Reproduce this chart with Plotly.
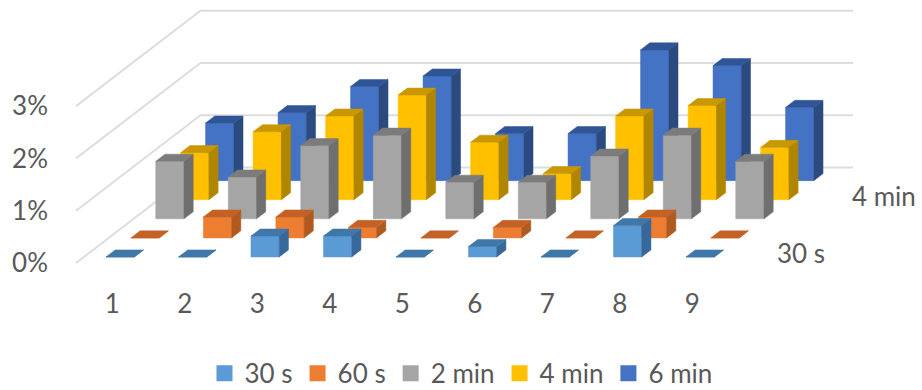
import plotly.graph_objects as go

# Column heights in percent, one list per exposure time
categories = [1, 2, 3, 4, 5, 6, 7, 8, 9]
series_names = ["30 s", "60 s", "2 min", "4 min", "6 min"]
values_30s = [0, 0, 0.4, 0.4, 0, 0.2, 0, 0.6, 0]
values_60s = [0, 0.4, 0.4, 0.2, 0, 0.2, 0, 0.4, 0]
values_2min = [1.1, 0.8, 1.4, 1.6, 0.7, 0.7, 1.2, 1.6, 1.1]
values_4min = [0.9, 1.3, 1.6, 2.0, 1.1, 0.5, 1.6, 1.8, 1.0]
values_6min = [1.1, 1.3, 1.8, 2.0, 0.9, 0.9, 2.5, 2.2, 1.4]
all_values = [values_30s, values_60s, values_2min, values_4min, values_6min]

y_ticks = [0, 1, 2, 3]
y_labels = ["0%", "1%", "2%", "3%"]
depth_labels = {"30 s": 0, "4 min": 3}

# (front, top, side) shades for each series
face_colors = [
    ("#5B9BD5", "#3F77A8", "#37689A"),
    ("#ED7D31", "#C46226", "#B05A20"),
    ("#A5A5A5", "#7C7C7C", "#6F6F6F"),
    ("#FFC000", "#C99700", "#B08600"),
    ("#4472C4", "#2F5597", "#2A4A80"),
]

# Oblique projection: each series row shifts right and up on the page
ROW_DX = 0.3434
ROW_DY = 0.365
BAR_WIDTH = 0.39
BAR_FRONT = 0.315
BAR_BACK = 0.685
N_ROWS = len(series_names)
X_MIN = categories[0] - 0.5
X_MAX = categories[-1] + 0.5

TEXT = "#595959"
GRID = "#DDDDDD"
FONT = "Lato"
FONT_SIZE = 26


def project(cat, depth, value):
    return cat + depth * ROW_DX, value + depth * ROW_DY


def polygons(corners_list):
    xs, ys = [], []
    for corners in corners_list:
        for cat, depth, value in corners + [corners[0]]:
            px, py = project(cat, depth, value)
            xs.append(px)
            ys.append(py)
        xs.append(None)
        ys.append(None)
    return xs, ys


fig = go.Figure()

# Walls: side-wall lines run from the front corner to the back, then along the back wall
for level in y_ticks:
    px, py = zip(*[project(X_MIN, 0, level), project(X_MIN, N_ROWS, level), project(X_MAX, N_ROWS, level)])
    fig.add_trace(go.Scatter(x=px, y=py, mode="lines", line=dict(color=GRID, width=2),
                             hoverinfo="skip", showlegend=False))

# Columns, rear series first so nearer ones cover them
for row in reversed(range(N_ROWS)):
    front, top, side = [], [], []
    for cat, val in zip(categories, all_values[row]):
        l, r = cat - BAR_WIDTH / 2, cat + BAR_WIDTH / 2
        d0, d1 = row + BAR_FRONT, row + BAR_BACK
        front.append([(l, d0, 0), (r, d0, 0), (r, d0, val), (l, d0, val)])
        top.append([(l, d0, val), (r, d0, val), (r, d1, val), (l, d1, val)])
        side.append([(r, d0, 0), (r, d1, 0), (r, d1, val), (r, d0, val)])
    for corners, color in zip((front, side, top), (face_colors[row][0], face_colors[row][2], face_colors[row][1])):
        xs, ys = polygons(corners)
        fig.add_trace(go.Scatter(x=xs, y=ys, mode="lines", fill="toself", fillcolor=color,
                                 line=dict(color=color, width=0.5), hoverinfo="skip", showlegend=False))

# Legend entries
for name, colors in zip(series_names, face_colors):
    fig.add_trace(go.Scatter(x=[None], y=[None], mode="markers", name=name,
                             marker=dict(symbol="square", size=16, color=colors[0])))

# Series labels at the right end of the floor
for name, row in depth_labels.items():
    px, py = project(X_MAX, row + 0.5, 0)
    fig.add_annotation(x=px, y=py, text=name, showarrow=False, xanchor="left", xshift=34,
                       font=dict(family=FONT, size=FONT_SIZE, color=TEXT))

PLOT_LEFT, PLOT_BOTTOM = 49, 286
CAT_PX, VAL_PX = 72.5, 52.3
ORIGIN_PX, ORIGIN_PY = 76, 263

fig.update_layout(
    width=922, height=390,
    margin=dict(l=PLOT_LEFT, r=0, t=0, b=390 - PLOT_BOTTOM),
    paper_bgcolor="white", plot_bgcolor="white",
    font=dict(family=FONT, size=FONT_SIZE, color=TEXT),
    showlegend=True,
    legend=dict(orientation="h", x=0.5, xref="container", xanchor="center",
                y=0.103, yref="container", yanchor="top",
                font=dict(family=FONT, size=FONT_SIZE, color=TEXT), itemwidth=30,
                bgcolor="rgba(0,0,0,0)"),
    xaxis=dict(range=[X_MIN + (PLOT_LEFT - ORIGIN_PX) / CAT_PX, X_MIN + (922 - ORIGIN_PX) / CAT_PX],
               tickmode="array", tickvals=categories, ticktext=[str(c) for c in categories],
               showgrid=False, zeroline=False, showline=False, ticks="", fixedrange=True),
    yaxis=dict(range=[(ORIGIN_PY - PLOT_BOTTOM) / VAL_PX, ORIGIN_PY / VAL_PX],
               tickmode="array", tickvals=y_ticks, ticktext=y_labels,
               showgrid=False, zeroline=False, showline=False, ticks="", fixedrange=True),
)

fig.write_html("out.html", config={"displayModeBar": False})
